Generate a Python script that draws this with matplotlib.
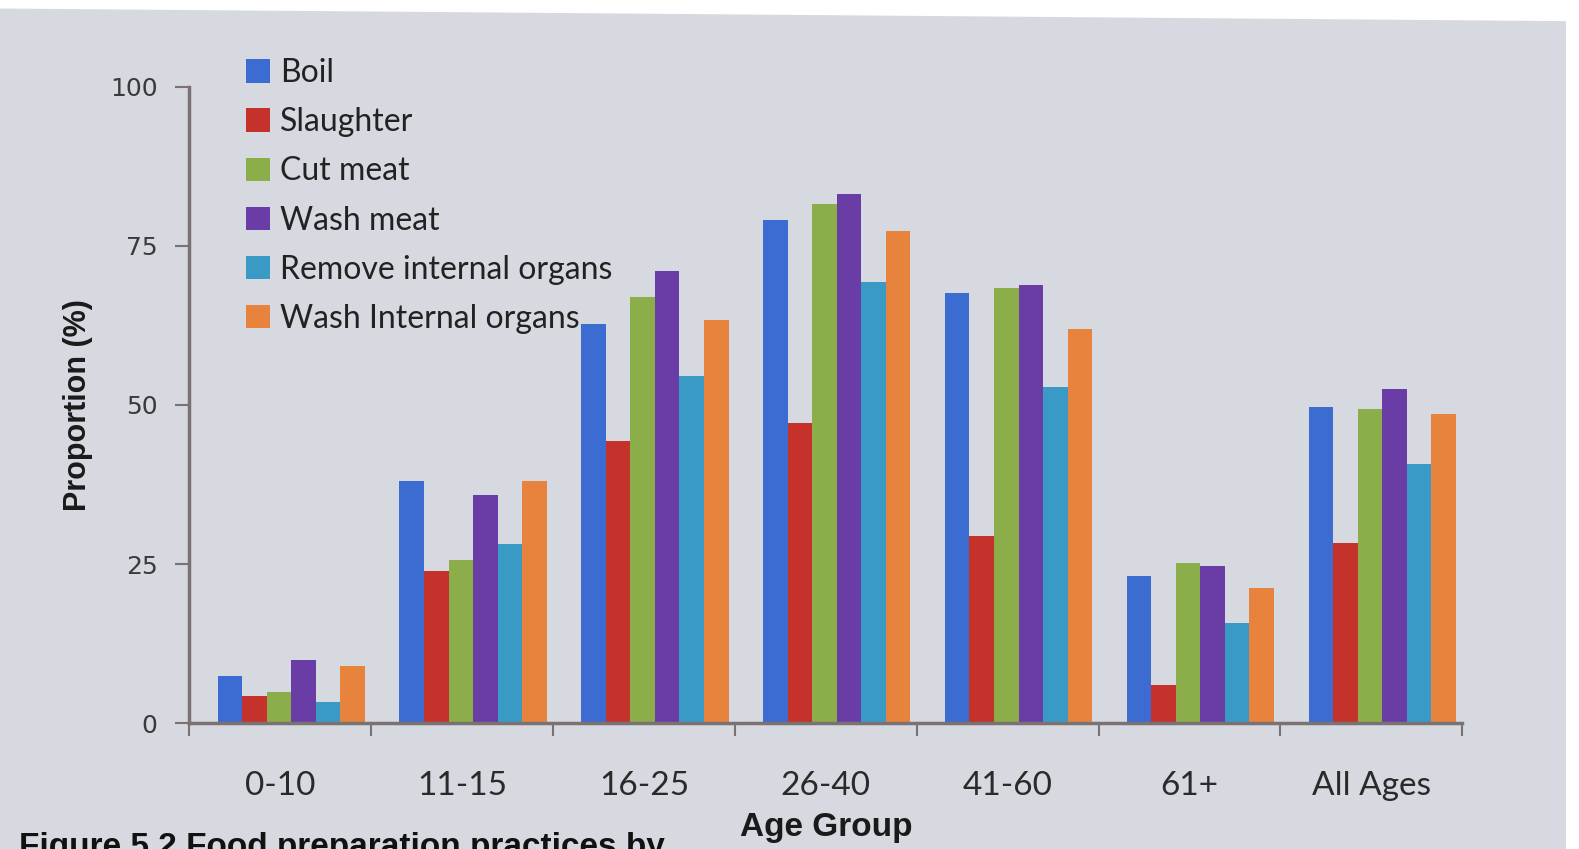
import matplotlib.pyplot as plt
import numpy as np
from matplotlib.patches import Polygon

groups = ['0-10', '11-15', '16-25', '26-40', '41-60', '61+', 'All Ages']
series = ['Boil', 'Slaughter', 'Cut meat', 'Wash meat',
          'Remove internal organs', 'Wash Internal organs']
boil      = [7.4, 38.0, 62.7, 79.1, 67.6, 23.1, 49.7]
slaughter = [4.3, 23.9, 44.3, 47.2, 29.4, 6.0, 28.3]
cut_meat  = [4.9, 25.6, 66.9, 81.6, 68.4, 25.2, 49.4]
wash_meat = [10.0, 35.8, 71.0, 83.2, 68.8, 24.7, 52.5]
remove_io = [3.3, 28.2, 54.6, 69.3, 52.8, 15.8, 40.7]
wash_io   = [9.0, 38.1, 63.3, 77.4, 62.0, 21.2, 48.6]
values = [boil, slaughter, cut_meat, wash_meat, remove_io, wash_io]

colors = ['#3C6BD2', '#C4322B', '#8BAE4A', '#6A3DA6', '#3A9AC6', '#E8833E']
BG = '#D7D9E0'
AXC = '#7A7272'

fig = plt.figure(figsize=(15.79, 8.49), dpi=100, facecolor=BG)
# white paper edge at top/right of the photo
fig.patches.append(Polygon([(0, 1), (1, 1), (1, 0.975), (0, 0.99)], closed=True,
                           transform=fig.transFigure, facecolor='white',
                           edgecolor='none', zorder=0))
fig.patches.append(Polygon([(0.992, 0), (1, 0), (1, 1), (0.992, 1)], closed=True,
                           transform=fig.transFigure, facecolor='white',
                           edgecolor='none', zorder=0))

ax = fig.add_axes([0.120, 0.148, 0.806, 0.750])
ax.set_facecolor('none')

x = np.arange(len(groups))
w = 0.135
shift = 0.06
for i, (name, vals) in enumerate(zip(series, values)):
    ax.bar(x + shift + (i - 2.5) * w, vals, width=w, color=colors[i],
           label=name, linewidth=0)

ax.set_xlim(-0.5, len(groups) - 0.5)
ax.set_ylim(0, 100)
ax.set_yticks([0, 25, 50, 75, 100])
ax.tick_params(axis='y', labelsize=18, colors=AXC, labelcolor='#3a3a3a',
               length=10, width=1.5, pad=13)
ax.set_xticks(x)
ax.set_xticklabels(groups, fontsize=24, family='Lato', color='#2a2a2a')
ax.set_xticks(np.arange(len(groups) + 1) - 0.5, minor=True)
ax.tick_params(axis='x', which='major', length=0, pad=34)
ax.tick_params(axis='x', which='minor', length=9, width=1.5, colors=AXC)

for s in ['top', 'right']:
    ax.spines[s].set_visible(False)
for s in ['left', 'bottom']:
    ax.spines[s].set_color(AXC)
    ax.spines[s].set_linewidth(2.5)

ax.set_ylabel('Proportion (%)', fontsize=22, fontweight='bold',
              family='Liberation Sans', color='#1a1a1a', labelpad=12)
ax.set_xlabel('Age Group', fontsize=24, fontweight='bold',
              family='Liberation Sans', color='#1a1a1a', labelpad=8)

leg = ax.legend(loc='upper left', bbox_to_anchor=(0.022, 1.09), frameon=False,
                prop={'family': 'Lato', 'size': 23}, handlelength=0.75,
                handleheight=0.75, handletextpad=0.3, labelspacing=0.6)
for t in leg.get_texts():
    t.set_color('#222222')

fig.text(0.012, -0.016, 'Figure 5.2 Food preparation practices by',
         fontsize=24, fontweight='bold', family='Liberation Sans',
         color='#111111', va='bottom')

fig.savefig('out.png', dpi=100, facecolor=BG)
